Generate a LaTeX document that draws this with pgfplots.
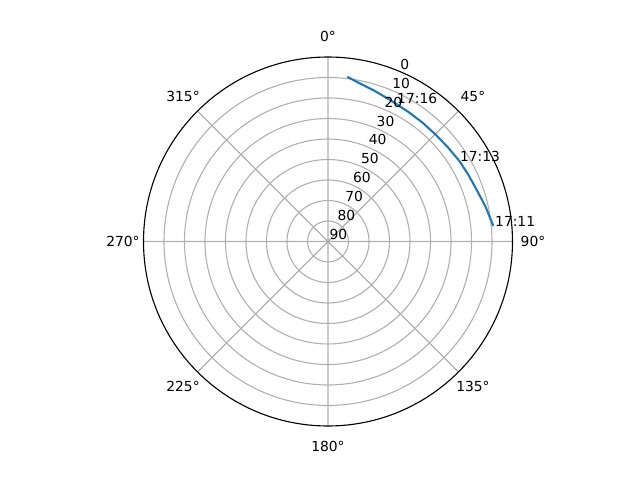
\documentclass[border=0pt]{standalone}
\usepackage{fontspec}
\setmainfont{DejaVu Sans}
\usepackage{pgfplots}
\usepackage{pgfplotstable}
\pgfplotsset{compat=1.18}
\usepgfplotslibrary{polar}
\definecolor{mplblue}{RGB}{31,119,180}
\definecolor{gridgray}{RGB}{176,176,176}

% azimuth (deg, clockwise from north) and elevation (deg)
\pgfplotstableread{
az el
84.6 9.0
77.5 11.3
70.9 13.2
64.5 14.2
58.8 14.8
52.0 15.6
45.3 16.0
38.5 15.9
31.7 15.6
23.7 14.6
16.6 12.9
11.0 11.2
6.7 9.1
}\passdata

\begin{document}
\begin{tikzpicture}[font=\fontsize{10}{12}\selectfont]
\begin{polaraxis}[
  scale only axis,
  width=3.69in, height=3.69in,
  xmin=0, xmax=360, ymin=0, ymax=90,
  xtick={0,45,...,315},
  ytick={10,20,...,80},
  xticklabels={}, yticklabels={},
  major tick length=0pt,
  xmajorgrids=true, ymajorgrids=true,
  major grid style={gridgray, line width=0.8pt},
  axis line style={black, line width=0.8pt},
  y axis line style={draw=none},
  clip=false,
]
  \coordinate (c) at (axis cs:0,0);
  % sky plot: north up, clockwise, elevation 90 at the centre
  \addplot[mplblue, line width=1.5pt, no marks]
    table[x expr=90-\thisrow{az}, y expr=90-\thisrow{el}] {\passdata};

  % angle labels (compass)
  \node at (axis cs:90,100) {0°};
  \node at (axis cs:45,100) {45°};
  \node at (axis cs:0,100) {90°};
  \node at (axis cs:315,100) {135°};
  \node at (axis cs:270,100) {180°};
  \node at (axis cs:225,100) {225°};
  \node at (axis cs:180,100) {270°};
  \node at (axis cs:135,100) {315°};

  % elevation labels
  \node[anchor=south west, inner sep=1pt] at (axis cs:67.5,90) {0};
  \node[anchor=south west, inner sep=1pt] at (axis cs:67.5,80) {10};
  \node[anchor=south west, inner sep=1pt] at (axis cs:67.5,70) {20};
  \node[anchor=south west, inner sep=1pt] at (axis cs:67.5,60) {30};
  \node[anchor=south west, inner sep=1pt] at (axis cs:67.5,50) {40};
  \node[anchor=south west, inner sep=1pt] at (axis cs:67.5,40) {50};
  \node[anchor=south west, inner sep=1pt] at (axis cs:67.5,30) {60};
  \node[anchor=south west, inner sep=1pt] at (axis cs:67.5,20) {70};
  \node[anchor=south west, inner sep=1pt] at (axis cs:67.5,10) {80};
  \node[anchor=south west, inner sep=1pt] at (axis cs:67.5,0) {90};

  % time labels
  \node[anchor=base west, inner sep=0pt] at (axis cs:5.3,81.8) {17:11};
  \node[anchor=base west, inner sep=0pt] at (axis cs:31.2,75.2) {17:13};
  \node[anchor=base west, inner sep=0pt] at (axis cs:63.5,75.4) {17:16};
\end{polaraxis}
\pgfresetboundingbox
\path (c) ++(-3.28in,-2.385in) rectangle ++(6.4in,4.8in);
\end{tikzpicture}
\end{document}
